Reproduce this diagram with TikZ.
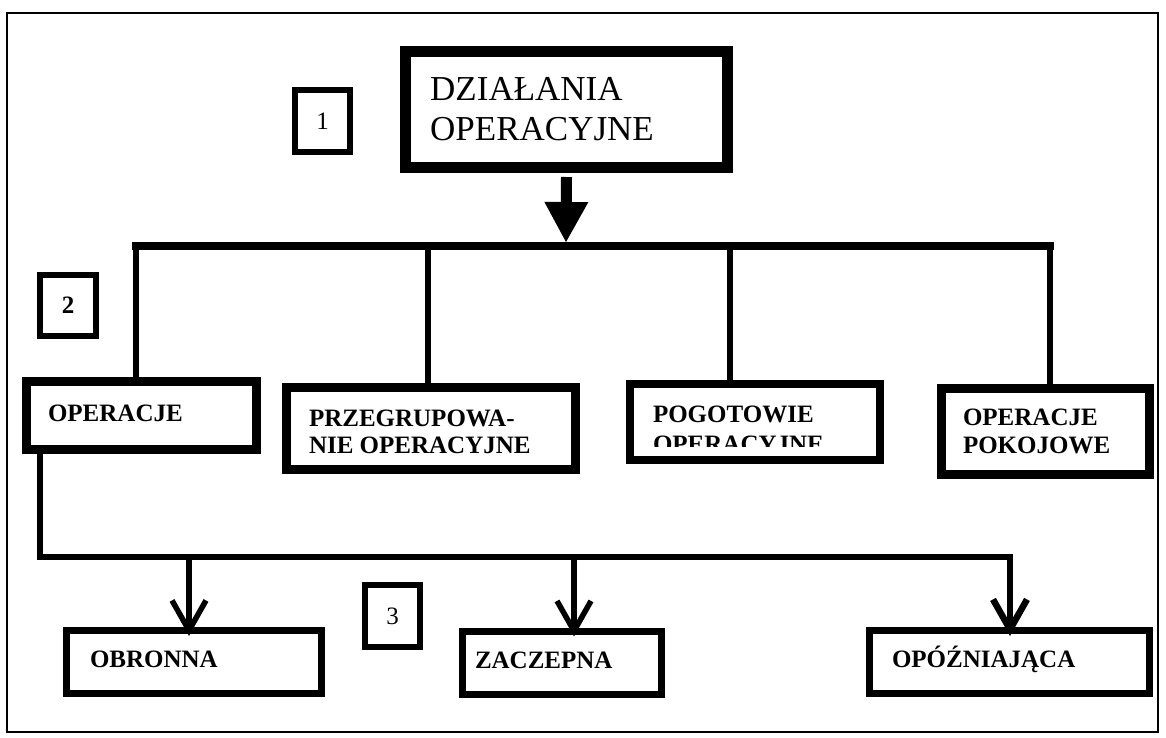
\documentclass[tikz,border=0pt]{standalone}
\usepackage{fontspec}
\setmainfont{Liberation Serif}
\usetikzlibrary{arrows.meta,calc}
\begin{document}
\begin{tikzpicture}[x=1pt,y=-1pt,
  box/.style={draw=black, rectangle, inner sep=0pt, outer sep=0pt},
  lbl/.style={inner sep=0pt, outer sep=0pt, anchor=base west, font=\fontsize{25}{27}\selectfont\bfseries},
  numreg/.style={box, line width=6pt, font=\fontsize{25}{27}\selectfont},
  numbold/.style={box, line width=6pt, font=\fontsize{25}{27}\selectfont\bfseries},
  bus/.style={draw=black, line width=8pt, line cap=rect},
  drop/.style={draw=black, line width=5.5pt},
  lowbus/.style={draw=black, line width=6.5pt, line join=miter},
  barb/.style={-{Straight Barb[length=30pt,width=34pt]}},
]
\useasboundingbox (0,0) rectangle (1166,737);
% outer frame
\draw[line width=2pt] (7,13) rectangle (1158,732);

% top box
\node[box, line width=11pt, minimum width=322pt, minimum height=116pt] (top) at (566.5,109.5) {};
\node[inner sep=0pt, anchor=base west, font=\fontsize{35}{40}\selectfont] (t1) at (430,100) {DZIAŁANIA};
\node[inner sep=0pt, anchor=base west, font=\fontsize{35}{40}\selectfont] (t2) at (430,140) {OPERACYJNE};

% number boxes
\node[numreg, minimum width=55pt, minimum height=62pt] (n1) at (322.5,121) {1};
\node[numbold, minimum width=56pt, minimum height=61pt] (n2) at (68,305.5) {2};
\node[numreg, minimum width=55pt, minimum height=62pt] (n3) at (392.5,616) {3};

% level 2 boxes
\node[box, line width=9pt, minimum width=230pt, minimum height=68pt] (op) at (141.5,415.5) {};
\node[lbl] (opT) at (48,421) {OPERACJE};

\node[box, line width=9pt, minimum width=289pt, minimum height=82pt] (prz) at (431,428.5) {};
\node[lbl] (przT1) at (309,426) {PRZEGRUPOWA-};
\node[lbl] (przT2) at (309,453) {NIE OPERACYJNE};

\node[box, line width=8pt, minimum width=250pt, minimum height=76pt] (pog) at (755,422) {};
\node[lbl] (pogT1) at (653,422) {POGOTOWIE};
\coordinate (pclipA) at (630,384);
\coordinate (pclipB) at (880,446);
\begin{scope}
  \clip (pclipA) rectangle (pclipB);
  \node[lbl] (pogT2) at (653,452) {OPERACYJNE};
\end{scope}

\node[box, line width=9pt, minimum width=208pt, minimum height=86pt] (pok) at (1045.5,431.5) {};
\node[lbl] (pokT1) at (963,425) {OPERACJE};
\node[lbl] (pokT2) at (963,453) {POKOJOWE};

% level 3 boxes
\node[box, line width=7pt, minimum width=255pt, minimum height=63pt] (obr) at (194,662) {};
\node[lbl] (obrT) at (90,667) {OBRONNA};
\node[box, line width=7pt, minimum width=199pt, minimum height=63pt] (zac) at (562,663) {};
\node[lbl] (zacT) at (475,668) {ZACZEPNA};
\node[box, line width=7pt, minimum width=280pt, minimum height=63pt] (opo) at (1009.5,662) {};
\node[lbl] (opoT) at (892,667) {OPÓŹNIAJĄCA};

% big arrow
\coordinate (jtop) at (566,242);
\draw[line width=11pt, -{Triangle[length=40pt,width=44pt,line width=0pt]}] ($(top.south)+(0,9.5)$) -- (jtop);

% upper bus
\coordinate (v1) at (136,246);
\coordinate (v2) at (428,246);
\coordinate (v3) at (730,246);
\coordinate (v4) at (1050,246);
\draw[bus] (v1) -- (v4);
\draw[drop] (v1) -- (v1 |- op.north);
\draw[drop] (v2) -- (v2 |- prz.north);
\draw[drop] (v3) -- (v3 |- pog.north);
\draw[drop] (v4) -- (v4 |- pok.north);

% lower bus
\coordinate (cL) at (40,557);
\coordinate (c1) at (189,557);
\coordinate (c2) at (574,557);
\coordinate (cR) at (1010,557);
\draw[lowbus, barb] (cL |- op.south) -- (cL) -- (cR) -- ($(cR |- opo.north)+(0,5.5)$);
\draw[drop, barb] (c1) -- ($(c1 |- obr.north)+(0,5.5)$);
\draw[drop, barb] (c2) -- ($(c2 |- zac.north)+(0,5)$);
\end{tikzpicture}
\end{document}
